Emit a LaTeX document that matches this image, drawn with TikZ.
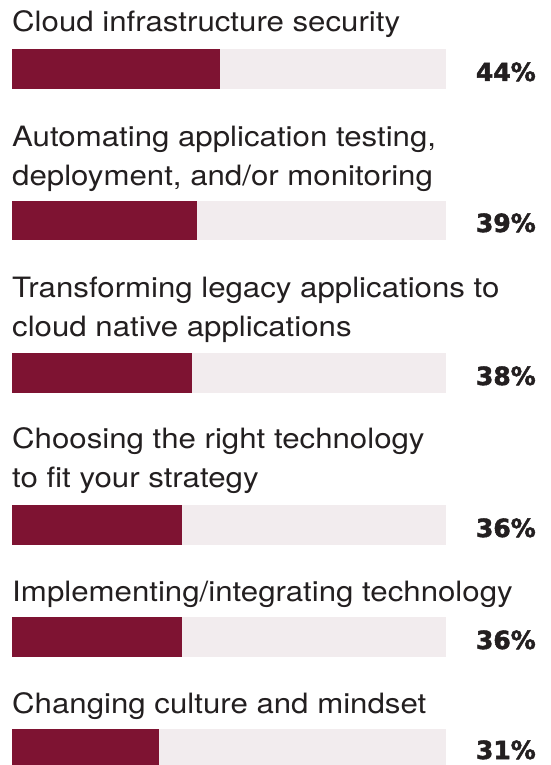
\documentclass[tikz,border=0pt]{standalone}
\usepackage{fontspec}
\setmainfont{TeX Gyre Heros}[FakeStretch=1.115]
\newfontfamily\pctfont{DejaVu Sans}[FakeBold=2]
\begin{document}
\begin{tikzpicture}[x=1pt, y=-1pt,
  itemtext/.style={anchor=base west, inner sep=0pt, align=left, text=txtcol, font=\fontsize{28}{39}\selectfont},
  pcttext/.style={anchor=base east, inner sep=0pt, text=txtcol, font=\pctfont\bfseries\fontsize{25}{28}\selectfont}]
\definecolor{barcol}{HTML}{7E1332}
\definecolor{trackcol}{HTML}{F2ECEE}
\definecolor{txtcol}{HTML}{231F20}
\useasboundingbox (0,0) rectangle (551,765);
\fill[trackcol] (12,49) rectangle (446,89);
\fill[barcol] (12,49) rectangle (220.1,89);
\node[itemtext] (item1) at (12,32) {Cloud infrastructure security};
\node[pcttext] (pct1) at (536,81) {44\%};
\fill[trackcol] (12,201) rectangle (446,240);
\fill[barcol] (12,201) rectangle (196.5,240);
\node[itemtext] (item2) at (12,185) {Automating application testing,\\deployment, and/or monitoring};
\node[pcttext] (pct2) at (536,232) {39\%};
\fill[trackcol] (12,353) rectangle (446,393);
\fill[barcol] (12,353) rectangle (191.7,393);
\node[itemtext] (item3) at (12,336) {Transforming legacy applications to\\cloud native applications};
\node[pcttext] (pct3) at (536,385) {38\%};
\fill[trackcol] (12,505) rectangle (446,545);
\fill[barcol] (12,505) rectangle (182.3,545);
\node[itemtext] (item4) at (12,487) {Choosing the right technology\\to fit your strategy};
\node[pcttext] (pct4) at (536,537) {36\%};
\fill[trackcol] (12,617) rectangle (446,657);
\fill[barcol] (12,617) rectangle (182.3,657);
\node[itemtext] (item5) at (12,601) {Implementing/integrating technology};
\node[pcttext] (pct5) at (536,649) {36\%};
\fill[trackcol] (12,729) rectangle (446,769);
\fill[barcol] (12,729) rectangle (158.6,769);
\node[itemtext] (item6) at (12,713) {Changing culture and mindset};
\node[pcttext] (pct6) at (536,759) {31\%};
\end{tikzpicture}
\end{document}
